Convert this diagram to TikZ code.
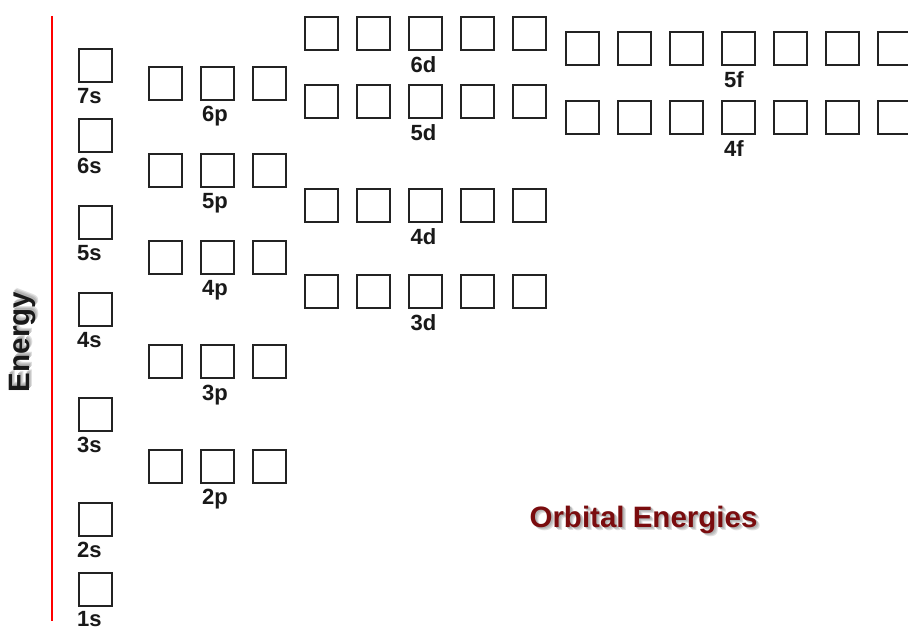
\documentclass[tikz,border=0pt]{standalone}
\usepackage{fontspec}
\setmainfont{Liberation Sans}
\definecolor{orbred}{RGB}{122,12,14}
\definecolor{boxline}{RGB}{35,35,35}
\newcommand{\shadowed}[2]{%
  \makebox[0pt][l]{\hspace{3.5pt}\raisebox{-3.5pt}{\textcolor{black!12}{#2}}}%
  \makebox[0pt][l]{\hspace{2.5pt}\raisebox{-2.5pt}{\textcolor{black!22}{#2}}}%
  \makebox[0pt][l]{\hspace{1.5pt}\raisebox{-1.5pt}{\textcolor{black!30}{#2}}}%
  \textcolor{#1}{#2}}
\begin{document}
\begin{tikzpicture}[x=1pt,y=-1pt,
  orb/.style={draw=boxline, line width=2pt, minimum size=33pt, inner sep=0pt, outer sep=1pt},
  lab/.style={font=\fontsize{22}{22}\selectfont\bfseries, text=black!90, inner sep=0pt},
  bigtxt/.style={font=\fontsize{29.5}{29.5}\selectfont\bfseries, inner sep=0pt}]
\useasboundingbox (0,0) rectangle (908,628);
\clip (0,0) rectangle (908,628);
\fill[white] (0,0) rectangle (908,628);

% energy axis
\coordinate (etop) at (52,16);
\coordinate (ebot) at (52,621);
\draw[red, line width=2pt] (etop) -- (ebot);

% Energy label
\node[bigtxt, rotate=90] (energy) at (24,342) {\shadowed{black!90}{Energy}};

% s orbitals
\foreach \n/\y in {7/65.5,6/135.5,5/223,4/309.5,3/414.5,2/519.5,1/589} {
  \node[orb] (s\n) at (95.5,\y) {};
  \node[lab, anchor=north west] (ls\n) at ([xshift=-1pt,yshift=-5pt]s\n.south west) {\n s};
}

% p orbitals
\foreach \n/\y in {6/83.5,5/170.5,4/258,3/362,2/466.5} {
  \foreach \i/\x in {1/165,2/217,3/269.5}
    \node[orb] (p\n\i) at (\x,\y) {};
  \node[lab, anchor=north] (lp\n) at ([xshift=-2pt,yshift=-5pt]p\n2.south) {\n p};
}

% d orbitals
\foreach \n/\y in {6/33.5,5/101.5,4/205.5,3/292} {
  \foreach \i in {1,...,5}
    \node[orb] (d\n\i) at ({321.5+52*(\i-1)},\y) {};
  \node[lab, anchor=north] (ld\n) at ([xshift=-2pt,yshift=-5pt]d\n3.south) {\n d};
}

% f orbitals
\foreach \n/\y in {5/49,4/118} {
  \foreach \i in {1,...,7}
    \node[orb] (f\n\i) at ({582+52*(\i-1)},\y) {};
  \node[lab, anchor=north] (lf\n) at ([xshift=-4pt,yshift=-5pt]f\n4.south) {\n f};
}

% title
\node[bigtxt, anchor=base] (title) at (643.5,527) {\shadowed{orbred}{Orbital Energies}};
\end{tikzpicture}
\end{document}
